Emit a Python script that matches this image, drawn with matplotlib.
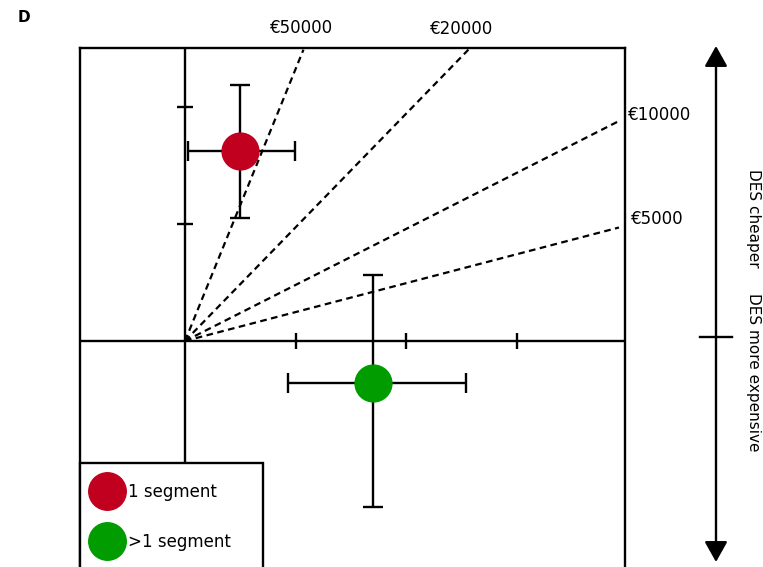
import matplotlib
matplotlib.use("Agg")
import matplotlib.pyplot as plt
from matplotlib.lines import Line2D
from matplotlib.patches import FancyArrowPatch

# ---- data (abstract plane units) ----
groups = ["1 segment", ">1 segment"]
colors = ["#c0001e", "#009c00"]
x_mean = [0.50, 1.70]
x_low = [0.03, 0.93]
x_high = [0.99, 2.54]
y_mean = [1.62, -0.36]
y_low = [1.05, -1.42]
y_high = [2.19, 0.56]

wtp_labels = ["€5000", "€10000", "€20000", "€50000"]
wtp_end_x = [3.92, 3.92, 2.56, 1.07]
wtp_end_y = [0.97, 1.88, 2.49, 2.49]

x_ticks = [1, 2, 3]
y_ticks = [1, 2]

side_labels = ["DES cheaper", "DES more expensive"]

# ---- figure ----
W, H = 763, 567
fig = plt.figure(figsize=(W / 100, H / 100), dpi=100)
fig.patch.set_facecolor("white")

LW = 1.7
left_px, right_px, top_px, bot_px = 80, 625, 48, 600
ax = fig.add_axes([left_px / W, (H - bot_px) / H, (right_px - left_px) / W, (bot_px - top_px) / H])
ux, uy = 110.7, 117.0
ox, oy = 185, 341
ax.set_xlim((left_px - ox) / ux, (right_px - ox) / ux)
ax.set_ylim((oy - bot_px) / uy, (oy - top_px) / uy)
ax.set_xticks([])
ax.set_yticks([])
for s in ax.spines.values():
    s.set_linewidth(LW)
    s.set_color("black")

ax.axhline(0, color="black", lw=LW, zorder=2)
ax.axvline(0, color="black", lw=LW, zorder=2)
ax.plot(x_ticks, [0] * len(x_ticks), ls="", marker="|", ms=11.5, mew=LW, color="black", zorder=2)
ax.plot([0] * len(y_ticks), y_ticks, ls="", marker="_", ms=12, mew=LW, color="black", zorder=2)

# willingness-to-pay lines
label_offsets = [(8.6, 5.8, "left"), (6.5, 4.3, "left"), (-5, 15, "center"), (-1.4, 15.8, "center")]
for lab, ex, ey, (dx, dy, ha) in zip(wtp_labels, wtp_end_x, wtp_end_y, label_offsets):
    ax.plot([0, ex], [0, ey], color="black", lw=1.6, ls=(0, (3, 2)), zorder=3)
    ax.annotate(lab, xy=(ex, ey), xytext=(dx, dy), textcoords="offset points",
                ha=ha, va="center", fontsize=12, annotation_clip=False)

# points with error bars
handles = []
for i in range(len(groups)):
    ax.errorbar(x_mean[i], y_mean[i],
                xerr=[[x_mean[i] - x_low[i]], [x_high[i] - x_mean[i]]],
                yerr=[[y_mean[i] - y_low[i]], [y_high[i] - y_mean[i]]],
                fmt="none", ecolor="black", elinewidth=LW, capsize=7, capthick=LW, zorder=4)
    ax.plot(x_mean[i], y_mean[i], marker="o", ms=26.5, color=colors[i], mec=colors[i], ls="", zorder=5)
    handles.append(Line2D([], [], marker="o", ls="", ms=27, color=colors[i], mec=colors[i]))

leg_top = (bot_px - 463) / (bot_px - top_px)
leg_w = (263 - left_px) / (right_px - left_px)
leg = ax.legend(handles, groups, loc="upper left", bbox_to_anchor=(0, leg_top, leg_w, 0),
                mode="expand", fontsize=12, frameon=True, fancybox=False, framealpha=1,
                edgecolor="black", borderaxespad=0, borderpad=1.2, labelspacing=1.9,
                handlelength=0.84, handletextpad=0.84)
leg.get_frame().set_linewidth(LW)
leg.set_zorder(10)

# panel letter
fig.text(18 / W, 1 - 18 / H, "D", fontweight="bold", fontsize=11, ha="left", va="center")

# right-hand double arrow
arr = FancyArrowPatch((716 / W, 1 - 562 / H), (716 / W, 1 - 46 / H), transform=fig.transFigure,
                      arrowstyle="<|-|>,head_length=0.5,head_width=0.28", mutation_scale=25,
                      color="black", lw=LW, shrinkA=0, shrinkB=0)
fig.add_artist(arr)
fig.add_artist(Line2D([700 / W, 732 / W], [1 - 337 / H, 1 - 337 / H], transform=fig.transFigure,
                      color="black", lw=LW))
fig.text(753 / W, 1 - 218 / H, side_labels[0], rotation=270, ha="center", va="center", fontsize=11)
fig.text(753 / W, 1 - 372 / H, side_labels[1], rotation=270, ha="center", va="center", fontsize=11)

fig.savefig("out.png", dpi=100, facecolor="white")
